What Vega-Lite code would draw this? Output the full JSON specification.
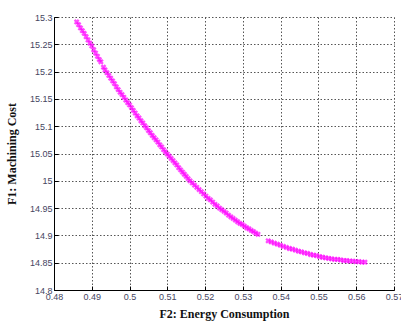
{
  "$schema": "https://vega.github.io/schema/vega-lite/v6.json",
  "width": 340,
  "height": 273,
  "autosize": {"type": "none"},
  "padding": {"left": 54, "top": 17, "right": 7, "bottom": 33},
  "background": "white",
  "config": {
    "view": {"stroke": null},
    "axis": {
      "labelFont": "Liberation Sans",
      "labelFontSize": 9,
      "labelColor": "#45455f",
      "titleFont": "Liberation Serif",
      "titleFontSize": 12,
      "titleFontWeight": "bold",
      "titleColor": "#111",
      "domainColor": "#000",
      "domainWidth": 1,
      "tickColor": "#000",
      "tickSize": -4,
      "gridColor": "#555",
      "gridDash": [1.5, 2],
      "gridWidth": 1,
      "gridOpacity": 1
    }
  },
  "data": {
    "values": [
      {"f2": 0.4860, "f1": 15.291}, {"f2": 0.4865, "f1": 15.286}, {"f2": 0.4870, "f1": 15.280}, {"f2": 0.4875, "f1": 15.275},
      {"f2": 0.4880, "f1": 15.270}, {"f2": 0.4885, "f1": 15.264}, {"f2": 0.4890, "f1": 15.258}, {"f2": 0.4895, "f1": 15.252},
      {"f2": 0.4900, "f1": 15.247}, {"f2": 0.4905, "f1": 15.240}, {"f2": 0.4910, "f1": 15.234}, {"f2": 0.4915, "f1": 15.228},
      {"f2": 0.4920, "f1": 15.222}, {"f2": 0.4924, "f1": 15.218}, {"f2": 0.4931, "f1": 15.208}, {"f2": 0.4935, "f1": 15.203},
      {"f2": 0.4940, "f1": 15.198}, {"f2": 0.4945, "f1": 15.193}, {"f2": 0.4950, "f1": 15.188}, {"f2": 0.4955, "f1": 15.183},
      {"f2": 0.4960, "f1": 15.178}, {"f2": 0.4965, "f1": 15.172}, {"f2": 0.4970, "f1": 15.167}, {"f2": 0.4975, "f1": 15.162},
      {"f2": 0.4980, "f1": 15.158}, {"f2": 0.4985, "f1": 15.153}, {"f2": 0.4990, "f1": 15.148}, {"f2": 0.4995, "f1": 15.143},
      {"f2": 0.5000, "f1": 15.139}, {"f2": 0.5005, "f1": 15.134}, {"f2": 0.5010, "f1": 15.129}, {"f2": 0.5015, "f1": 15.124},
      {"f2": 0.5020, "f1": 15.119}, {"f2": 0.5025, "f1": 15.115}, {"f2": 0.5030, "f1": 15.110}, {"f2": 0.5035, "f1": 15.106},
      {"f2": 0.5040, "f1": 15.101}, {"f2": 0.5045, "f1": 15.097}, {"f2": 0.5050, "f1": 15.092}, {"f2": 0.5055, "f1": 15.088},
      {"f2": 0.5060, "f1": 15.083}, {"f2": 0.5065, "f1": 15.079}, {"f2": 0.5070, "f1": 15.075}, {"f2": 0.5075, "f1": 15.071},
      {"f2": 0.5080, "f1": 15.066}, {"f2": 0.5085, "f1": 15.062}, {"f2": 0.5090, "f1": 15.057}, {"f2": 0.5095, "f1": 15.053},
      {"f2": 0.5100, "f1": 15.049}, {"f2": 0.5105, "f1": 15.045}, {"f2": 0.5110, "f1": 15.041}, {"f2": 0.5115, "f1": 15.037},
      {"f2": 0.5120, "f1": 15.033}, {"f2": 0.5125, "f1": 15.029}, {"f2": 0.5130, "f1": 15.024}, {"f2": 0.5135, "f1": 15.020},
      {"f2": 0.5140, "f1": 15.016}, {"f2": 0.5145, "f1": 15.012}, {"f2": 0.5150, "f1": 15.008}, {"f2": 0.5155, "f1": 15.004},
      {"f2": 0.5160, "f1": 15.000}, {"f2": 0.5166, "f1": 14.996}, {"f2": 0.5172, "f1": 14.992}, {"f2": 0.5178, "f1": 14.988},
      {"f2": 0.5184, "f1": 14.984}, {"f2": 0.5190, "f1": 14.980}, {"f2": 0.5196, "f1": 14.976}, {"f2": 0.5202, "f1": 14.972},
      {"f2": 0.5208, "f1": 14.968}, {"f2": 0.5214, "f1": 14.965}, {"f2": 0.5220, "f1": 14.961}, {"f2": 0.5226, "f1": 14.957},
      {"f2": 0.5232, "f1": 14.954}, {"f2": 0.5238, "f1": 14.950}, {"f2": 0.5244, "f1": 14.947}, {"f2": 0.5250, "f1": 14.944},
      {"f2": 0.5256, "f1": 14.941}, {"f2": 0.5262, "f1": 14.937}, {"f2": 0.5268, "f1": 14.934}, {"f2": 0.5274, "f1": 14.931},
      {"f2": 0.5280, "f1": 14.928}, {"f2": 0.5286, "f1": 14.925}, {"f2": 0.5292, "f1": 14.922}, {"f2": 0.5298, "f1": 14.920},
      {"f2": 0.5304, "f1": 14.917}, {"f2": 0.5310, "f1": 14.914}, {"f2": 0.5316, "f1": 14.912}, {"f2": 0.5322, "f1": 14.909},
      {"f2": 0.5328, "f1": 14.907}, {"f2": 0.5334, "f1": 14.904}, {"f2": 0.5340, "f1": 14.902},
      {"f2": 0.5367, "f1": 14.890}, {"f2": 0.5375, "f1": 14.888}, {"f2": 0.5383, "f1": 14.886}, {"f2": 0.5391, "f1": 14.884},
      {"f2": 0.5399, "f1": 14.882}, {"f2": 0.5407, "f1": 14.880}, {"f2": 0.5415, "f1": 14.878}, {"f2": 0.5423, "f1": 14.876},
      {"f2": 0.5431, "f1": 14.875}, {"f2": 0.5439, "f1": 14.873}, {"f2": 0.5447, "f1": 14.871}, {"f2": 0.5455, "f1": 14.870},
      {"f2": 0.5463, "f1": 14.868}, {"f2": 0.5471, "f1": 14.867}, {"f2": 0.5479, "f1": 14.865}, {"f2": 0.5487, "f1": 14.864},
      {"f2": 0.5495, "f1": 14.863}, {"f2": 0.5503, "f1": 14.861}, {"f2": 0.5511, "f1": 14.860}, {"f2": 0.5519, "f1": 14.859},
      {"f2": 0.5527, "f1": 14.858}, {"f2": 0.5535, "f1": 14.857}, {"f2": 0.5543, "f1": 14.856}, {"f2": 0.5551, "f1": 14.856},
      {"f2": 0.5559, "f1": 14.855}, {"f2": 0.5567, "f1": 14.854}, {"f2": 0.5575, "f1": 14.854}, {"f2": 0.5583, "f1": 14.853},
      {"f2": 0.5591, "f1": 14.853}, {"f2": 0.5599, "f1": 14.852}, {"f2": 0.5607, "f1": 14.852}, {"f2": 0.5615, "f1": 14.851},
      {"f2": 0.5623, "f1": 14.851}
    ]
  },
  "mark": {"type": "point", "shape": "cross", "filled": true, "angle": 45, "size": 34, "color": "#ff00ff", "opacity": 0.7},
  "encoding": {
    "x": {
      "field": "f2", "type": "quantitative",
      "scale": {"domain": [0.48, 0.57], "nice": false, "zero": false},
      "axis": {
        "title": "F2: Energy Consumption",
        "values": [0.48, 0.49, 0.5, 0.51, 0.52, 0.53, 0.54, 0.55, 0.56, 0.57],
        "labelExpr": "replace(format(datum.value, '.2f'), /0$/, '')",
        "labelPadding": 6,
        "titlePadding": 7,
        "labelFlush": false
      }
    },
    "y": {
      "field": "f1", "type": "quantitative",
      "scale": {"domain": [14.8, 15.3], "nice": false, "zero": false},
      "axis": {
        "title": "F1: Machining Cost",
        "values": [14.8, 14.85, 14.9, 14.95, 15, 15.05, 15.1, 15.15, 15.2, 15.25, 15.3],
        "labelExpr": "format(datum.value, '')",
        "labelPadding": 6,
        "titlePadding": 11,
        "labelFlush": false
      }
    }
  }
}
